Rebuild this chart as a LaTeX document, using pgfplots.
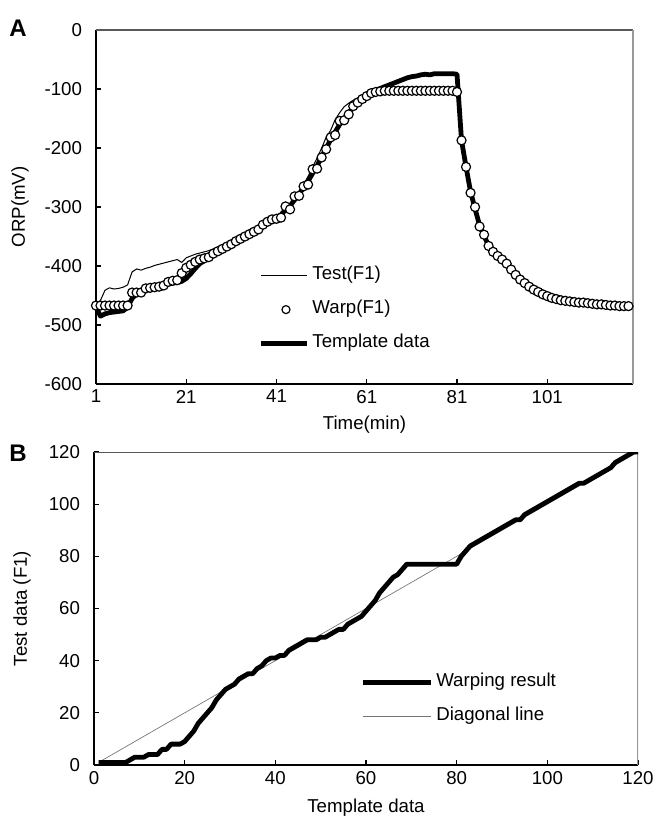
\documentclass[border=0pt]{standalone}
\usepackage{fontspec}
\setmainfont{Liberation Sans}
\usepackage{pgfplots}
\pgfplotsset{compat=1.18}
\usepackage{pgfplotstable}

\pgfplotstableread{
x T W S
1 -470 -467 -467
2 -485 -467 -458
3 -481 -467 -441
4 -479 -467 -437
5 -478 -467 -439
6 -477 -467 -438
7 -476 -467 -436
8 -470 -467 -432
9 -455 -445 -410
10 -447 -445 -405
11 -444 -445 -407
12 -440 -438 -404
13 -438 -437 -402
14 -436 -436 -399
15 -434 -435 -397
16 -432 -433 -395
17 -430 -427 -393
18 -429 -425 -391
19 -428 -424 -389
20 -426 -412 -394
21 -421 -403 -386
22 -413 -398 -383
23 -404 -393 -380
24 -396 -389 -378
25 -391 -387 -376
26 -386 -385 -374
27 -381 -379 -371
28 -376 -375 -368
29 -372 -371 -365
30 -367 -367 -362
31 -363 -363 -358
32 -359 -358 -354
33 -355 -354 -351
34 -351 -350 -347
35 -347 -346 -343
36 -343 -342 -339
37 -338 -338 -336
38 -333 -330 -331
39 -328 -325 -327
40 -323 -321 -322
41 -318 -320 -318
42 -313 -318 -310
43 -305 -299 -302
44 -298 -304 -300
45 -288 -282 -290
46 -278 -281 -275
47 -267 -265 -262
48 -256 -262 -248
49 -243 -236 -232
50 -230 -235 -217
51 -215 -216 -200
52 -200 -202 -182
53 -186 -182 -170
54 -173 -178 -152
55 -160 -154 -140
56 -150 -153 -130
57 -140 -143 -124
58 -131 -129 -119
59 -123 -123 -115
60 -116 -117 -111
61 -110 -112 -108
62 -106 -107 -106
63 -102 -105 -104
64 -99 -104 -103
65 -96 -103 -102
66 -93 -103 -101
67 -90 -103 -101
68 -87 -103 -101
69 -84 -103 -101
70 -81 -103 -101
71 -79 -103 -102
72 -78 -103 -102
73 -76 -103 -102
74 -75 -103 -102
75 -76 -103 -103
76 -74 -103 -103
77 -74 -103 -103
78 -74 -103 -103
79 -74 -103 -104
80 -74 -103 -104
81 -75 -105 -105
82 -187 -187 -187
83 -232 -232 -232
84 -274 -276 -276
85 -303 -300 -300
86 -331 -333 -333
87 -349 -347 -347
88 -365 -366 -366
89 -376 -376 -376
90 -384 -383 -383
91 -390 -389 -389
92 -397 -396 -396
93 -406 -406 -406
94 -415 -415 -415
95 -423 -423 -423
96 -429 -429 -429
97 -435 -435 -435
98 -440 -440 -440
99 -444 -444 -444
100 -448 -448 -448
101 -451 -451 -451
102 -454 -454 -454
103 -456 -456 -456
104 -458 -458 -458
105 -459 -459 -459
106 -460 -460 -460
107 -461 -461 -461
108 -462 -462 -462
109 -462 -462 -462
110 -463 -463 -463
111 -464 -464 -464
112 -465 -465 -465
113 -465 -465 -465
114 -466 -466 -466
115 -467 -467 -467
116 -467 -467 -467
117 -468 -468 -468
118 -468 -468 -468
119 -468 -468 -468
}\dataA

\pgfplotstableread{
x y
1 1
2 1
3 1
4 1
5 1
6 1
7 1
8 2
9 3
10 3
11 3
12 4
13 4
14 4
15 6
16 6
17 8
18 8
19 8
20 9
21 11
22 13
23 16
24 18
25 20
26 22
27 25
28 27
29 29
30 30
31 31
32 33
33 34
34 35
35 35
36 37
37 38
38 40
39 41
40 41
41 42
42 42
43 44
44 45
45 46
46 47
47 48
48 48
49 48
50 49
51 49
52 50
53 51
54 52
55 52
56 54
57 55
58 56
59 57
60 59
61 61
62 63
63 66
64 68
65 70
66 72
67 73
68 75
69 77
70 77
71 77
72 77
73 77
74 77
75 77
76 77
77 77
78 77
79 77
80 77
81 80
82 82
83 84
84 85
85 86
86 87
87 88
88 89
89 90
90 91
91 92
92 93
93 94
94 94
95 96
96 97
97 98
98 99
99 100
100 101
101 102
102 103
103 104
104 105
105 106
106 107
107 108
108 108
109 109
110 110
111 111
112 112
113 113
114 114
115 116
116 117
117 118
118 119
119 120
120 120
}\dataB

\pgfplotstableread{
x y
1 1
120 120
}\dataDiag

\newcommand{\tfont}{\fontsize{14}{16}\selectfont}

\pgfplotsset{
  myaxis/.style={
    scale only axis,
    axis x line*=bottom, axis y line*=left,
    axis line style={-, line width=1.1pt, black},
    tick align=inside,
    major tick length=4pt,
    tick style={black, line width=0.8pt},
    tick label style={font=\tfont},
    yticklabel style={xshift=-7pt},
    xticklabel style={yshift=-1pt},
    /pgf/number format/assume math mode=true,
    legend cell align=left,
  },
  legshort/.style={legend image code/.code={\draw[##1] (0pt,0pt) -- (34.5pt,0pt);}},
  legmark/.style={legend image code/.code={\path[draw=none, fill=none] (0pt,0pt) -- (34.5pt,0pt); \node[circle, draw=black, fill=white, line width=0.9pt, inner sep=0pt, text height=0pt, text depth=0pt, text width=0pt, minimum size=6pt] at (15pt,0pt) {};}},
  leglong/.style={legend image code/.code={\draw[##1] (0pt,0pt) -- (51pt,0pt);}},
}

\begin{document}
\begin{tikzpicture}
\useasboundingbox (0pt,0pt) rectangle (490.5pt,-613.5pt);

\begin{axis}[
  myaxis,
  at={(72pt,-288pt)}, anchor=south west,
  width=402.75pt, height=265.5pt,
  xmin=1, xmax=120, ymin=-600, ymax=0,
  xtick={1,21,41,61,81,101},
  ytick={-600,-500,-400,-300,-200,-100,0},
  yticklabels={-600,-500,-400,-300,-200,-100,0},
  clip=false,
  xlabel={Time(min)},
  ylabel={ORP(mV)},
  every axis x label/.style={at={(rel axis cs:0.5,0)}, yshift=-30.75pt, anchor=center, font=\tfont},
  every axis y label/.style={at={(rel axis cs:0,0.5)}, xshift=-57pt, rotate=90, anchor=center, font=\tfont},
  legend style={draw=none, fill=none, at={(0.303,0.338)}, anchor=north west,
    inner sep=0pt, row sep=9pt, column sep=0pt,
    nodes={inner sep=2pt, text height=9.5pt, text depth=3pt, font=\tfont}},
]
\draw[black!65, line width=0.9pt] (rel axis cs:0,1) -- (rel axis cs:1,1);
\draw[black!40, line width=0.9pt] (rel axis cs:1,1) -- (rel axis cs:1,0);

\addlegendimage{black, line width=0.75pt, legshort}
\addlegendentry{Test(F1)}
\addlegendimage{legmark}
\addlegendentry{Warp(F1)}
\addlegendimage{black, line width=3.6pt, legshort}
\addlegendentry{Template data}

\addplot[forget plot, black, line width=0.75pt] table[x=x, y=S] {\dataA};
\addplot[forget plot, black, line width=3.6pt, line join=round] table[x=x, y=T] {\dataA};
\addplot[forget plot, only marks, mark=*, mark size=3.4pt, mark options={fill=white, draw=black, line width=0.9pt}] table[x=x, y=W] {\dataA};
\end{axis}

\node[font=\fontsize{18}{20}\selectfont\bfseries] at (13.5pt,-21pt) {A};
\node[font=\fontsize{18}{20}\selectfont\bfseries] at (13.5pt,-340pt) {B};

\begin{axis}[
  myaxis,
  at={(70.5pt,-573.75pt)}, anchor=south west,
  width=408pt, height=234.75pt,
  xmin=0, xmax=120, ymin=0, ymax=120,
  xtick={0,20,...,120},
  ytick={0,20,...,120},
  xlabel={Template data},
  ylabel={Test data (F1)},
  every axis x label/.style={at={(rel axis cs:0.5,0)}, yshift=-32pt, anchor=center, font=\tfont},
  every axis y label/.style={at={(rel axis cs:0,0.5)}, xshift=-54pt, rotate=90, anchor=center, font=\tfont},
  legend style={draw=none, fill=none, at={(0.49,0.30)}, anchor=north west,
    inner sep=0pt, row sep=9pt, column sep=0pt,
    nodes={inner sep=2pt, text height=9.5pt, text depth=3pt, font=\tfont}},
]
\draw[black!65, line width=0.9pt] (rel axis cs:0,1) -- (rel axis cs:1,1);
\draw[black!40, line width=0.9pt] (rel axis cs:1,1) -- (rel axis cs:1,0);

\addlegendimage{black, line width=3.6pt, leglong}
\addlegendentry{Warping result}
\addlegendimage{black!55, line width=0.5pt, leglong}
\addlegendentry{Diagonal line}

\addplot[forget plot, black!55, line width=0.5pt] table[x=x, y=y] {\dataDiag};
\addplot[forget plot, black, line width=3.6pt, line join=round] table[x=x, y=y] {\dataB};
\end{axis}
\end{tikzpicture}
\end{document}
